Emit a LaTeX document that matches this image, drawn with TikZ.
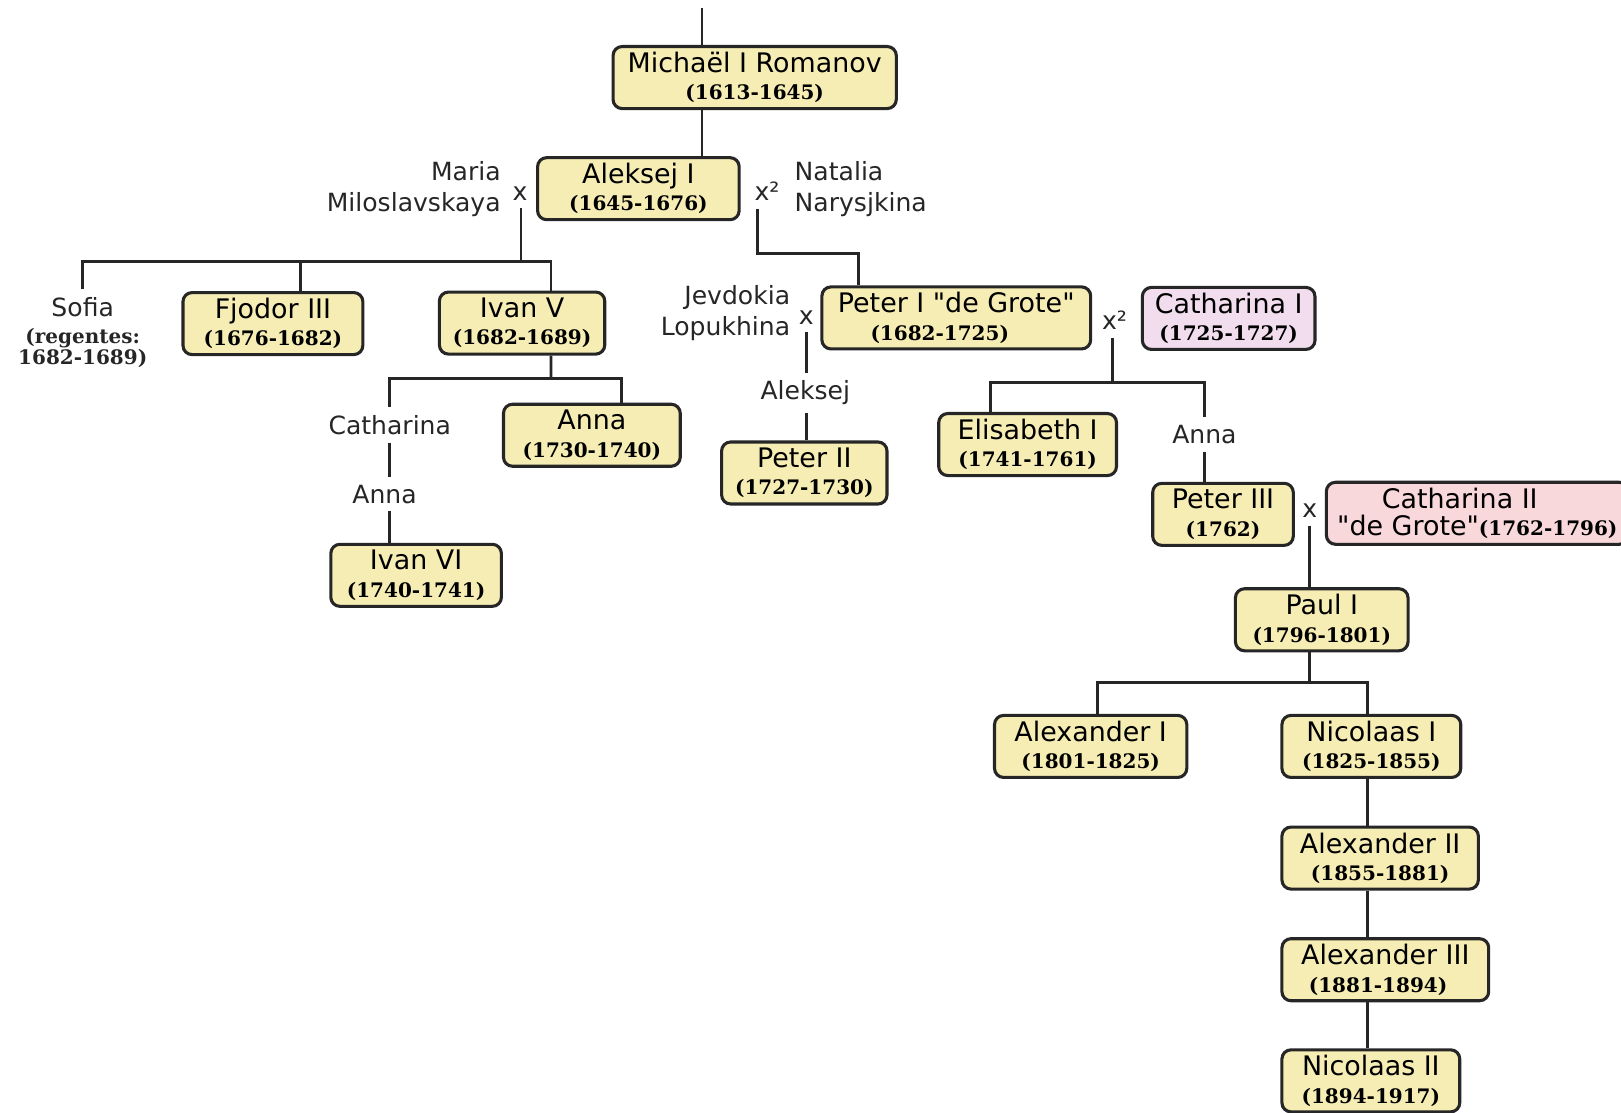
\documentclass[tikz,border=0pt]{standalone}
\usepackage{fontspec}
\setmainfont{DejaVu Sans}
\newfontfamily\jaarfont{DejaVu Serif}
\definecolor{geel}{HTML}{F6EDB4}
\definecolor{lila}{HTML}{F1DDEE}
\definecolor{roze}{HTML}{F9D8DC}
\newcommand{\jr}[1]{{\jaarfont\bfseries\fontsize{5.5}{7.5}\selectfont #1}}

\begin{document}
\begin{tikzpicture}[font=\fontsize{6.9}{8.6}\selectfont,
	lijn/.style={draw=black!85, line width=0.8pt},
	tsaar/.style={draw=black!85, line width=0.85pt, rounded corners=2.5pt, fill=geel,
		align=center, inner xsep=2pt, inner ysep=0pt, minimum height=0.6cm,
		font=\fontsize{7.4}{7.5}\selectfont},
	gade/.style={inner sep=2pt, text=black!85}]
\useasboundingbox (0,0) rectangle (15.68,-10.76);

%----------------------------
% Michael I and Aleksej I
%----------------------------
\coordinate (boven) at (6.79,-0.08);
\node[tsaar, minimum width=2.74cm] (michael) at (7.30,-0.75) {Michaël I Romanov\\\jr{(1613-1645)}};
\node[tsaar, minimum width=1.95cm] (aleksej1) at (6.175,-1.825) {Aleksej I\\\jr{(1645-1676)}};
\draw[lijn] (boven) -- (boven |- michael.north);
\draw[lijn] (michael.south -| boven) -- (aleksej1.north -| boven);

\node[gade, anchor=east, align=right] (maria) at (4.92,-1.83) {Maria\\Miloslavskaya};
\node[gade] (x1) at (5.03,-1.87) {x};
\node[gade] (x2) at (7.42,-1.85) {x²};
\node[gade, anchor=west, align=left] (natalia) at (7.61,-1.83) {Natalia\\Narysjkina};

%----------------------------
% children of Maria
%----------------------------
\coordinate (m1) at (5.04,-2.53);
\node[gade, anchor=north, align=center] (sofia) at (0.80,-2.80)
	{Sofia\\[-1.2pt]\jr{(regentes:}\\[-2.9pt]\jr{1682-1689)}};
\node[tsaar, minimum width=1.74cm] (fjodor) at (2.64,-3.13) {Fjodor III\\\jr{(1676-1682)}};
\node[tsaar, minimum width=1.60cm] (ivan5) at (5.05,-3.125) {Ivan V\\\jr{(1682-1689)}};
\draw[lijn] (x1.south -| m1) -- (m1);
\draw[lijn] (sofia.north) |- (m1) -| ([xshift=2.8mm]ivan5.north);
\draw[lijn] ([xshift=2.7mm]fjodor.north) -- ([xshift=2.7mm]fjodor.north |- m1);

% Ivan V
\coordinate (m2) at (5.33,-3.66);
\node[gade] (catharina) at (3.77,-4.11) {Catharina};
\node[tsaar, minimum width=1.71cm] (anna) at (5.725,-4.21) {Anna\\\jr{(1730-1740)}};
\node[gade] (annaL) at (3.72,-4.78) {Anna};
\node[tsaar, minimum width=1.65cm] (ivan6) at (4.025,-5.565) {Ivan VI\\\jr{(1740-1741)}};
\draw[lijn] ([xshift=2.8mm]ivan5.south) -- (m2);
\draw[lijn] (catharina.north) |- (m2) -| ([xshift=2.85mm]anna.north);
\draw[lijn] (catharina.south) -- (catharina.south |- annaL.north);
\draw[lijn] (catharina.south |- annaL.south) -- (catharina.south |- ivan6.north);

%----------------------------
% children of Natalia
%----------------------------
\coordinate (p1) at (7.33,-2.45);
\node[tsaar, minimum width=2.6cm] (peter1) at (9.25,-3.075)
	{Peter I \textquotedbl de Grote\textquotedbl\\\jr{(1682-1725)}\hspace*{0.32cm}};
\draw[lijn] (p1 |- x2.south) -- (p1) -| ([xshift=-9.5mm]peter1.north);

\node[gade, anchor=east, align=right] (jevdokia) at (7.72,-3.03) {Jevdokia\\Lopukhina};
\node[gade] (x3) at (7.80,-3.07) {x};
\node[gade] (aleksej) at (7.79,-3.80) {Aleksej};
\node[tsaar, minimum width=1.6cm] (peter2) at (7.78,-4.575) {Peter II\\\jr{(1727-1730)}};
\draw[lijn] (x3.south) -- (x3.south |- aleksej.north);
\draw[lijn] (aleksej.south -| x3) -- (peter2.north -| x3);

% Catharina I
\node[gade] (x4) at (10.78,-3.10) {x²};
\node[tsaar, fill=lila, minimum width=1.67cm] (catharina1) at (11.885,-3.08) {Catharina I\\\jr{(1725-1727)}};
\coordinate (p2) at (10.76,-3.70);
\node[tsaar, minimum width=1.72cm] (elisabeth) at (9.94,-4.30) {Elisabeth I\\\jr{(1741-1761)}};
\node[gade] (annaR) at (11.65,-4.20) {Anna};
\node[tsaar, minimum width=1.36cm] (peter3) at (11.83,-4.975) {Peter III\\\jr{(1762)}};
\draw[lijn] (p2 |- x4.south) -- (p2);
\draw[lijn] ([xshift=-3.6mm]elisabeth.north) |- (p2) -| (annaR.north);
\draw[lijn] (annaR.south) -- (annaR.south |- peter3.north);

% Peter III x Catharina II
\node[gade] (x5) at (12.67,-4.94) {x};
\node[tsaar, fill=roze, minimum width=2.92cm] (catharina2) at (14.29,-4.965)
	{Catharina II\hspace*{0.34cm}\\\textquotedbl de Grote\textquotedbl\jr{(1762-1796)}};
\node[tsaar, minimum width=1.67cm] (paul) at (12.785,-5.995) {Paul I\\\jr{(1796-1801)}};
\draw[lijn] (x5.south) -- (x5.south |- paul.north);

%----------------------------
% Paul I and his line
%----------------------------
\coordinate (p3) at (12.67,-6.60);
\coordinate (stam) at (13.23,-6.60);
\node[tsaar, minimum width=1.86cm] (alexander1) at (10.55,-7.22) {Alexander I\\\jr{(1801-1825)}};
\node[tsaar, minimum width=1.73cm] (nicolaas1) at (13.265,-7.22) {Nicolaas I\\\jr{(1825-1855)}};
\node[tsaar, minimum width=1.9cm] (alexander2) at (13.35,-8.30) {Alexander II\\\jr{(1855-1881)}};
\node[tsaar, minimum width=2.0cm] (alexander3) at (13.40,-9.38) {Alexander III\\\jr{(1881-1894)}\hspace*{0.14cm}};
\node[tsaar, minimum width=1.72cm] (nicolaas2) at (13.26,-10.455) {Nicolaas II\\\jr{(1894-1917)}};
\draw[lijn] (paul.south -| p3) -- (p3);
\draw[lijn] ([xshift=0.7mm]alexander1.north) |- (stam) -- (stam |- nicolaas1.north);
\foreach \a/\b in {nicolaas1/alexander2, alexander2/alexander3, alexander3/nicolaas2}
	\draw[lijn] (\a.south -| stam) -- (\b.north -| stam);
\end{tikzpicture}
\end{document}
